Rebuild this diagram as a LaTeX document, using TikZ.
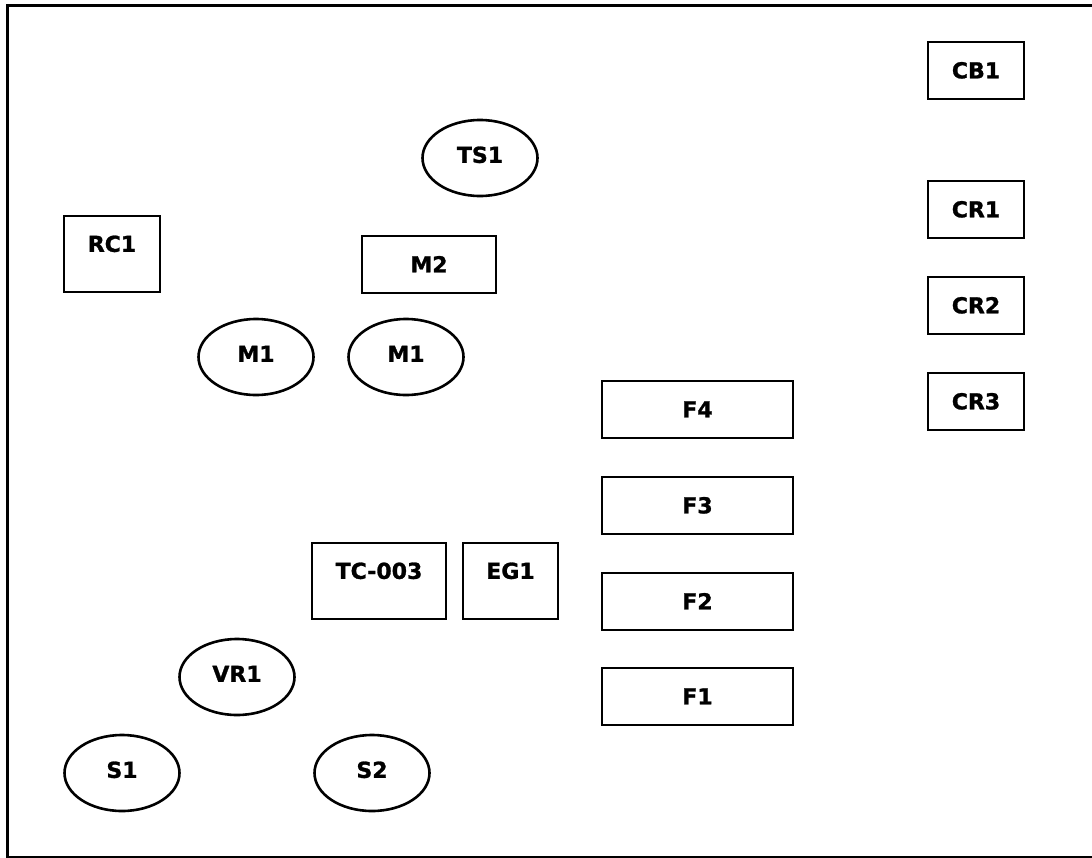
\documentclass[tikz,border=0pt]{standalone}
\usepackage{fontspec}
\setmainfont{DejaVu Sans}[BoldFeatures={FakeBold=1.2}]
\usetikzlibrary{shapes.geometric}
\begin{document}
\begin{tikzpicture}[x=1pt,y=-1pt,
  every node/.style={font=\fontsize{22}{26}\selectfont\bfseries, inner sep=0pt, outer sep=0pt},
  box/.style={draw, line width=2.6pt, rectangle, text height=15.7pt, text depth=0pt},
  tallbox/.style={box, text depth=20pt, minimum height=76pt},
  oval/.style={draw, line width=2.6pt, ellipse, minimum width=115pt, minimum height=76pt, text height=15.7pt, text depth=6pt},
  smallbox/.style={box, minimum width=96pt, minimum height=57pt},
  fbox/.style={box, minimum width=191pt, minimum height=57pt}]
\useasboundingbox (0,0) rectangle (1092,857);
\draw[line width=3pt] (7,5) rectangle (1110,857);
% right column
\node[smallbox] (cb1) at (976,70.5) {CB1};
\node[smallbox] (cr1) at (976,209.5) {CR1};
\node[smallbox] (cr2) at (976,305.5) {CR2};
\node[smallbox] (cr3) at (976,401.5) {CR3};
% F column
\node[fbox] (f4) at (697.5,409.5) {F4};
\node[fbox] (f3) at (697.5,505.5) {F3};
\node[fbox] (f2) at (697.5,601.5) {F2};
\node[fbox] (f1) at (697.5,696.5) {F1};
% boxes
\node[tallbox, minimum width=96pt] (rc1) at (112,254) {RC1};
\node[box, minimum width=134pt, minimum height=57pt] (m2) at (429,264.5) {M2};
\node[tallbox, minimum width=134pt] (tc) at (379,581) {TC-003};
\node[tallbox, minimum width=95pt] (eg1) at (510.5,581) {EG1};
% ellipses
\node[oval] (ts1) at (480,158) {TS1};
\node[oval] (m1a) at (256,357) {M1};
\node[oval] (m1b) at (406,357) {M1};
\node[oval] (vr1) at (237,677) {VR1};
\node[oval] (s1) at (122,773) {S1};
\node[oval] (s2) at (372,773) {S2};
\end{tikzpicture}
\end{document}
